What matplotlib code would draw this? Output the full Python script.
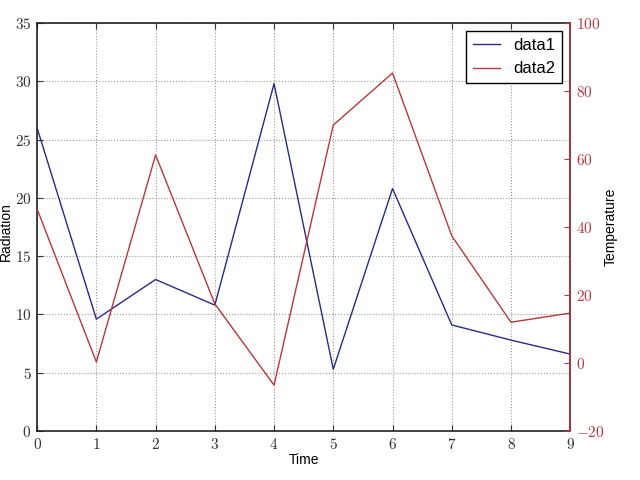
import matplotlib
matplotlib.use('Agg')
import matplotlib.pyplot as plt
from matplotlib.ticker import FuncFormatter, MultipleLocator

# Werte
time = [0, 1, 2, 3, 4, 5, 6, 7, 8, 9]
radiation = [26.0, 9.6, 13.0, 10.8, 29.8, 5.3, 20.8, 9.1, 7.8, 6.6]
temperature = [45.3, 0.3, 61.2, 17.4, -6.5, 70.0, 85.3, 37.4, 12.0, 14.7]

blue = '#2a2a82'
red = '#b23a3e'

plt.rcParams['mathtext.fontset'] = 'cm'
plt.rcParams['font.family'] = 'Liberation Sans'

fig = plt.figure(figsize=(6.4, 4.8), dpi=100, facecolor='white')
ax = fig.add_axes([0.058, 0.102, 0.833, 0.85])
ax2 = ax.twinx()

line1, = ax.plot(time, radiation, color=blue, lw=1.0, label='data1')
line2, = ax2.plot(time, temperature, color=red, lw=1.0, label='data2')

ax.set_xlim(0, 9)
ax.set_ylim(0, 35)
ax2.set_ylim(-20, 100)
ax.xaxis.set_major_locator(MultipleLocator(1))
ax.yaxis.set_major_locator(MultipleLocator(5))
ax2.yaxis.set_major_locator(MultipleLocator(20))

cm_fmt = FuncFormatter(lambda v, pos: r'$%g$' % v)
ax.xaxis.set_major_formatter(cm_fmt)
ax.yaxis.set_major_formatter(cm_fmt)
ax2.yaxis.set_major_formatter(cm_fmt)

ax.grid(True, color='#999999', linestyle=':', linewidth=0.8)
ax.tick_params(direction='in', top=True, length=4, labelsize=11, colors='#333333', pad=4)
ax.tick_params(axis='y', right=False)
ax2.tick_params(direction='in', length=4, labelsize=11, colors=red, pad=4)

for s in ax.spines.values():
    s.set_linewidth(1.2)
    s.set_color('#222222')
for s in ax2.spines.values():
    s.set_linewidth(1.2)
ax2.spines['right'].set_color(red)
ax2.spines['left'].set_visible(False)
ax2.spines['top'].set_visible(False)
ax2.spines['bottom'].set_visible(False)

ax.set_xlabel('Time', fontsize=10)
ax.xaxis.set_label_coords(0.5, -0.054)
ax.set_ylabel('Radiation', fontsize=10)
ax.yaxis.set_label_coords(-0.045, 0.49)
ax2.set_ylabel('Temperature', fontsize=10)
ax2.yaxis.set_label_coords(1.062, 0.5)

leg = ax2.legend([line1, line2], ['data1', 'data2'], loc='upper right',
                 fontsize=12, fancybox=False, framealpha=1,
                 edgecolor='black', handlelength=1.6, borderaxespad=0.5)
leg.get_frame().set_linewidth(1.0)

fig.savefig('out.png', dpi=100, facecolor='white')
